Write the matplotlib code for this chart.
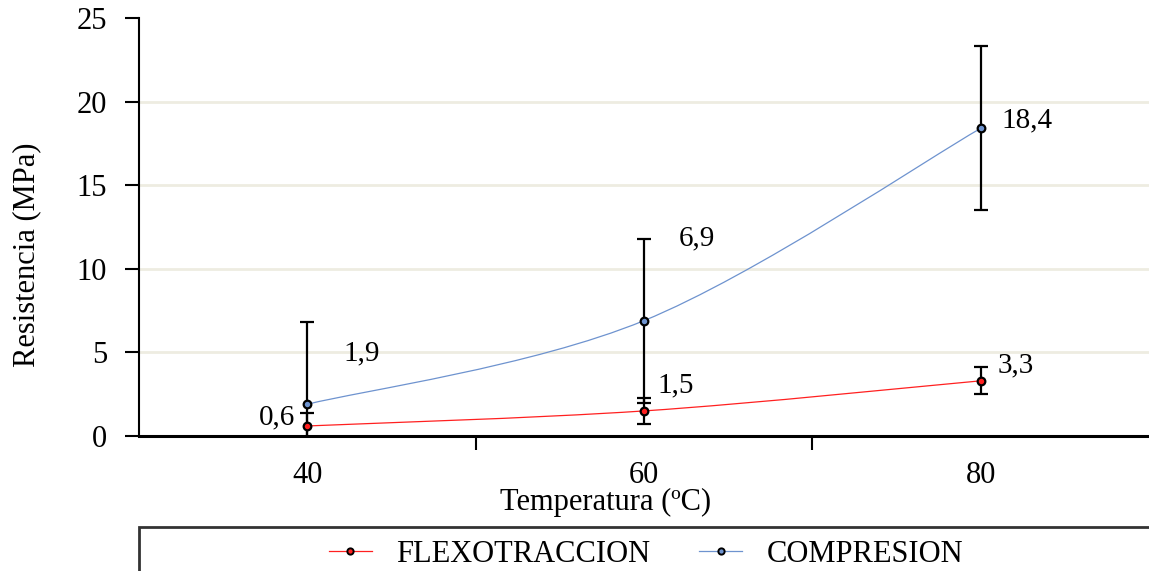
import numpy as np
import matplotlib.pyplot as plt
from matplotlib.path import Path
from matplotlib.patches import PathPatch, Rectangle
from matplotlib.lines import Line2D

plt.rcParams['font.family'] = ['Liberation Serif', 'DejaVu Serif']

# datos de ensayo
temperatura = [40, 60, 80]
flexotraccion = [0.6, 1.5, 3.3]
compresion = [1.9, 6.9, 18.4]
err_flexo = [0.8, 0.78, 0.8]
err_comp = [4.9, 4.9, 4.9]
etiquetas_flexo = ['0,6', '1,5', '3,3']
etiquetas_comp = ['1,9', '6,9', '18,4']

ROJO = '#FF2020'
AZUL = '#6E93CF'
FS = 22


def curva_suave(x, y):
    """Trazado Bezier tipo Catmull-Rom que pasa por los puntos (x, y)."""
    p = np.column_stack([x, y]).astype(float)
    n = len(p)
    verts = [p[0]]
    codes = [Path.MOVETO]
    for i in range(n - 1):
        a = p[max(i - 1, 0)]
        b = p[i]
        c = p[i + 1]
        d = p[min(i + 2, n - 1)]
        verts += [b + (c - a) / 6.0, c - (d - b) / 6.0, c]
        codes += [Path.CURVE4] * 3
    return Path(verts, codes)


fig = plt.figure(figsize=(11.49, 5.71), dpi=100)
ax = fig.add_axes([139 / 1149, 1 - 436 / 571, 1010 / 1149, 418 / 571])

ax.set_xlim(30, 90)
ax.set_ylim(0, 25)

# curvas suavizadas
ax.add_patch(PathPatch(curva_suave(temperatura, compresion), fill=False,
                       edgecolor=AZUL, lw=0.9, zorder=3))
ax.add_patch(PathPatch(curva_suave(temperatura, flexotraccion), fill=False,
                       edgecolor=ROJO, lw=0.9, zorder=3))

# barras de error
for vals, errs in [(compresion, err_comp), (flexotraccion, err_flexo)]:
    ax.errorbar(temperatura, vals, yerr=errs, fmt='none', ecolor='black',
                elinewidth=1.6, capsize=5, capthick=1.6, zorder=4, clip_on=True)

ax.plot(temperatura, compresion, 'o', ms=5.5, mfc=AZUL, mec='black', mew=1.6, zorder=5)
ax.plot(temperatura, flexotraccion, 'o', ms=5.5, mfc=ROJO, mec='black', mew=1.6, zorder=5)

# etiquetas de valores
off_comp = [(36, 51), (35, 82), (21, 8)]
off_flexo = [(-48, 9), (13, 26), (17, 15)]
for x, y, t, o in zip(temperatura, compresion, etiquetas_comp, off_comp):
    ax.annotate(t, (x, y), xytext=o, textcoords='offset pixels',
                ha='left', va='center', fontsize=21, zorder=6)
for x, y, t, o in zip(temperatura, flexotraccion, etiquetas_flexo, off_flexo):
    ax.annotate(t, (x, y), xytext=o, textcoords='offset pixels',
                ha='left', va='center', fontsize=21, zorder=6)

# ejes
ax.set_yticks([0, 5, 10, 15, 20, 25])
ax.set_xticks([50, 70])
ax.set_xticklabels([])
ax.set_xticks(temperatura, minor=True)
ax.set_xticklabels([str(t) for t in temperatura], minor=True)
ax.tick_params(axis='x', which='major', direction='out', length=10, width=1.5)
ax.tick_params(axis='x', which='minor', length=0, pad=18, labelsize=FS)
ax.tick_params(axis='y', direction='out', length=10, width=1.5, pad=13, labelsize=FS)

ax.yaxis.grid(True, color='#EEECE1', lw=2)
ax.get_ygridlines()[-1].set_visible(False)
ax.set_axisbelow(True)

for s in ['top', 'right']:
    ax.spines[s].set_visible(False)
ax.spines['left'].set_linewidth(1.5)
ax.spines['bottom'].set_linewidth(2.2)

ax.set_xlabel('Temperatura (ºC)', fontsize=FS)
ax.xaxis.set_label_coords(0.462, -0.125)
ax.set_ylabel('Resistencia (MPa)', fontsize=FS)
ax.yaxis.set_label_coords(-0.097, 0.433)

# leyenda en recuadro inferior
fig.patches.append(Rectangle((139 / 1149, -0.1), 1.0, 0.1 + 44 / 571,
                             transform=fig.transFigure, fill=False,
                             edgecolor='#333333', lw=2))
handles = [
    Line2D([], [], color=ROJO, lw=0.9, marker='o', ms=4.5, mfc=ROJO, mec='black', mew=1.4),
    Line2D([], [], color=AZUL, lw=0.9, marker='o', ms=4.5, mfc=AZUL, mec='black', mew=1.4),
]
fig.legend(handles, ['FLEXOTRACCION', 'COMPRESION'], loc='center',
           bbox_to_anchor=(646 / 1149, 1 - 554 / 571), ncol=2, frameon=False,
           fontsize=FS, handlelength=1.4, handletextpad=0.8, columnspacing=1.6)

fig.savefig('out.png', dpi=100)
